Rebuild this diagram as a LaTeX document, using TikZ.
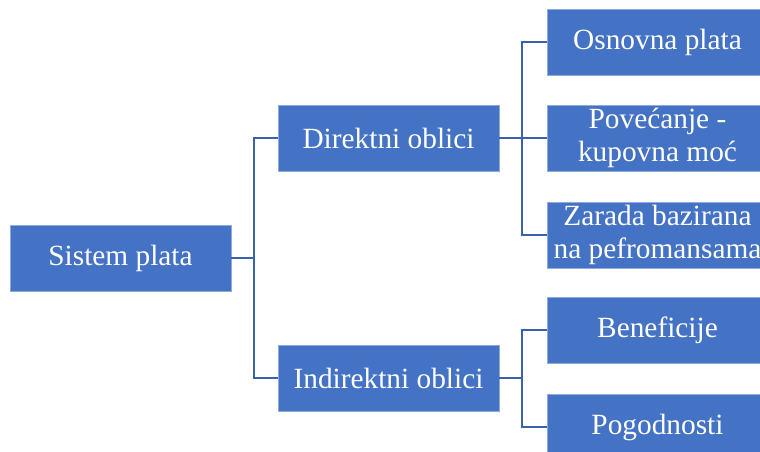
\documentclass[tikz,border=0pt]{standalone}
\usepackage{fontspec}
\setmainfont{Liberation Serif}
\usepackage{tikz}
\usetikzlibrary{positioning}
\definecolor{plava}{HTML}{4472C4}
\definecolor{plavar}{HTML}{8FAADC}
\definecolor{linija}{HTML}{3A62AA}
\tikzset{
  kutija/.style={fill=plava,draw=plavar,line width=0.4pt,text=white,
    minimum width=4.42cm,minimum height=1.32cm,align=center,inner sep=0pt,
    font=\fontsize{16.7}{18.4}\selectfont},
  veza/.style={linija,line width=1.4pt},
}
\begin{document}
\begin{tikzpicture}[x=0.02cm,y=-0.02cm]
  \clip (0,0) rectangle (760,452);
  \node[kutija] (sistem) at (120.5,258) {Sistem plata};
  \node[kutija] (direkt) at (388.5,138) {Direktni oblici};
  \node[kutija] (indirekt) at (388.5,378) {Indirektni oblici};
  \node[kutija] (osnovna) at (657.5,42) {Osnovna plata};
  \node[kutija] (povecanje) at (657.5,138) {Povećanje -\\kupovna moć};
  \node[kutija] (zarada) at (657.5,235) {Zarada bazirana\\na pefromansama};
  \node[kutija] (benef) at (657.5,330) {Beneficije};
  \node[kutija] (pogod) at (657.5,427) {Pogodnosti};
  \coordinate (j0) at (254,258);
  \coordinate (j1) at (522,138);
  \coordinate (j2) at (522,378);
  \draw[veza] (sistem.east) -- (j0);
  \draw[veza] (j0) |- (direkt.west);
  \draw[veza] (j0) |- (indirekt.west);
  \draw[veza] (direkt.east) -- (j1);
  \draw[veza] (j1) |- (osnovna.west);
  \draw[veza] (j1) -- (povecanje.west);
  \draw[veza] (j1) |- (zarada.west);
  \draw[veza] (indirekt.east) -- (j2);
  \draw[veza] (j2) |- (benef.west);
  \draw[veza] (j2) |- (pogod.west);
\end{tikzpicture}
\end{document}
